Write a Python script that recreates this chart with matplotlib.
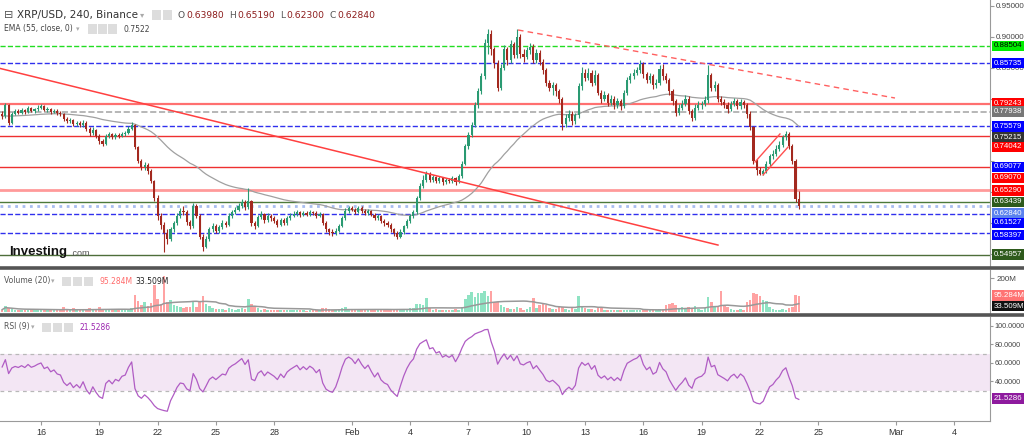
import matplotlib.pyplot as plt
from matplotlib.patches import Rectangle
from matplotlib.lines import Line2D
import numpy as np
import pandas as pd

# XRP/USD 4h candles, Jan 14 00:00 -> Feb 24 00:00 (six candles per row = one day)
# x unit: days, day 0 = Jan 16 00:00
first_open = 0.776
closes = [
    0.772, 0.790, 0.762, 0.776, 0.780, 0.778,   # Jan 14
    0.782, 0.779, 0.785, 0.781, 0.783, 0.786,   # Jan 15
    0.788, 0.782, 0.784, 0.779, 0.781, 0.777,   # Jan 16
    0.776, 0.768, 0.764, 0.766, 0.760, 0.762,
    0.758, 0.762, 0.752, 0.745, 0.750, 0.741,
    0.732, 0.728, 0.740, 0.743, 0.738, 0.742,   # Jan 19
    0.740, 0.744, 0.745, 0.752, 0.758, 0.722,
    0.700, 0.690, 0.694, 0.684, 0.668, 0.640,
    0.612, 0.598, 0.585, 0.575, 0.590, 0.600,   # Jan 22
    0.612, 0.620, 0.618, 0.602, 0.596, 0.628,
    0.612, 0.578, 0.562, 0.575, 0.590, 0.596,
    0.588, 0.594, 0.600, 0.598, 0.612, 0.618,   # Jan 25
    0.622, 0.628, 0.634, 0.626, 0.636, 0.600,
    0.596, 0.610, 0.615, 0.605, 0.612, 0.608,
    0.604, 0.598, 0.606, 0.600, 0.608, 0.612,   # Jan 28
    0.615, 0.618, 0.613, 0.617, 0.614, 0.618,
    0.616, 0.612, 0.615, 0.600, 0.590, 0.586,
    0.584, 0.588, 0.596, 0.608, 0.620, 0.624,
    0.622, 0.618, 0.625, 0.620, 0.616, 0.620,   # Feb 1
    0.614, 0.608, 0.612, 0.604, 0.600, 0.598,
    0.590, 0.584, 0.578, 0.586, 0.595, 0.604,
    0.612, 0.618, 0.640, 0.660, 0.670, 0.680,   # Feb 4
    0.670, 0.674, 0.668, 0.672, 0.666, 0.670,
    0.668, 0.672, 0.666, 0.676, 0.696, 0.724,
    0.742, 0.758, 0.790, 0.812, 0.836, 0.890,   # Feb 7
    0.905, 0.880, 0.858, 0.818, 0.850, 0.880,
    0.862, 0.888, 0.870, 0.900, 0.872, 0.868,
    0.878, 0.884, 0.862, 0.874, 0.860, 0.846,   # Feb 10
    0.825, 0.818, 0.822, 0.812, 0.800, 0.760,
    0.770, 0.776, 0.765, 0.774, 0.820, 0.842,
    0.834, 0.842, 0.826, 0.838, 0.810, 0.800,   # Feb 13
    0.806, 0.794, 0.800, 0.790, 0.796, 0.788,
    0.810, 0.830, 0.836, 0.842, 0.846, 0.856,
    0.840, 0.830, 0.836, 0.822, 0.826, 0.848,   # Feb 16
    0.836, 0.830, 0.812, 0.796, 0.778, 0.786,
    0.792, 0.800, 0.780, 0.770, 0.786, 0.790,
    0.792, 0.798, 0.838, 0.818, 0.822, 0.800,   # Feb 19
    0.795, 0.790, 0.784, 0.792, 0.796, 0.788,
    0.795, 0.790, 0.776, 0.754, 0.700, 0.686,
    0.680, 0.684, 0.696, 0.708, 0.712, 0.720,   # Feb 22
    0.726, 0.738, 0.744, 0.724, 0.700, 0.6398,
    0.6284,
]
highs = [
    0.781, 0.794, 0.792, 0.779, 0.784, 0.783,
    0.785, 0.784, 0.789, 0.787, 0.786, 0.790,
    0.791, 0.790, 0.787, 0.786, 0.784, 0.783,
    0.780, 0.778, 0.771, 0.769, 0.768, 0.765,
    0.764, 0.766, 0.764, 0.755, 0.754, 0.752,
    0.744, 0.735, 0.743, 0.747, 0.745, 0.745,
    0.745, 0.747, 0.749, 0.756, 0.763, 0.760,
    0.725, 0.703, 0.698, 0.697, 0.687, 0.670,
    0.645, 0.616, 0.602, 0.590, 0.594, 0.604,
    0.617, 0.625, 0.627, 0.621, 0.606, 0.632,
    0.631, 0.615, 0.582, 0.580, 0.594, 0.600,
    0.599, 0.598, 0.605, 0.604, 0.616, 0.622,
    0.626, 0.632, 0.639, 0.637, 0.657, 0.638,
    0.604, 0.614, 0.619, 0.617, 0.616, 0.615,
    0.611, 0.607, 0.609, 0.608, 0.611, 0.616,
    0.619, 0.621, 0.620, 0.620, 0.619, 0.621,
    0.620, 0.619, 0.618, 0.617, 0.603, 0.593,
    0.590, 0.592, 0.599, 0.611, 0.624, 0.628,
    0.627, 0.625, 0.628, 0.627, 0.623, 0.623,
    0.622, 0.617, 0.615, 0.614, 0.607, 0.603,
    0.601, 0.593, 0.587, 0.590, 0.598, 0.607,
    0.615, 0.622, 0.644, 0.664, 0.678, 0.684,
    0.682, 0.678, 0.676, 0.676, 0.674, 0.673,
    0.673, 0.676, 0.674, 0.680, 0.700, 0.728,
    0.746, 0.763, 0.795, 0.818, 0.842, 0.896,
    0.913, 0.910, 0.884, 0.862, 0.856, 0.886,
    0.884, 0.894, 0.892, 0.912, 0.904, 0.880,
    0.884, 0.890, 0.888, 0.880, 0.878, 0.864,
    0.850, 0.830, 0.827, 0.826, 0.816, 0.803,
    0.775, 0.782, 0.780, 0.778, 0.825, 0.852,
    0.848, 0.850, 0.846, 0.846, 0.842, 0.814,
    0.812, 0.810, 0.806, 0.804, 0.802, 0.800,
    0.814, 0.835, 0.842, 0.848, 0.852, 0.862,
    0.860, 0.844, 0.842, 0.840, 0.832, 0.854,
    0.856, 0.842, 0.834, 0.816, 0.800, 0.792,
    0.798, 0.806, 0.804, 0.784, 0.792, 0.796,
    0.796, 0.804, 0.855, 0.842, 0.828, 0.826,
    0.804, 0.800, 0.795, 0.797, 0.801, 0.800,
    0.800, 0.799, 0.793, 0.780, 0.757, 0.704,
    0.690, 0.688, 0.700, 0.712, 0.718, 0.726,
    0.732, 0.742, 0.748, 0.747, 0.728, 0.703,
    0.6519,
]
lows = [
    0.768, 0.770, 0.758, 0.760, 0.774, 0.775,
    0.776, 0.776, 0.777, 0.779, 0.778, 0.781,
    0.783, 0.780, 0.779, 0.776, 0.777, 0.774,
    0.772, 0.765, 0.761, 0.762, 0.757, 0.757,
    0.755, 0.755, 0.748, 0.741, 0.742, 0.737,
    0.728, 0.725, 0.726, 0.737, 0.735, 0.735,
    0.737, 0.738, 0.741, 0.743, 0.750, 0.719,
    0.697, 0.686, 0.686, 0.679, 0.664, 0.636,
    0.606, 0.590, 0.554, 0.566, 0.572, 0.586,
    0.597, 0.608, 0.614, 0.598, 0.590, 0.593,
    0.608, 0.574, 0.556, 0.560, 0.572, 0.586,
    0.584, 0.585, 0.591, 0.594, 0.595, 0.608,
    0.615, 0.619, 0.625, 0.622, 0.623, 0.596,
    0.590, 0.594, 0.607, 0.601, 0.602, 0.604,
    0.600, 0.594, 0.596, 0.597, 0.598, 0.605,
    0.610, 0.612, 0.610, 0.611, 0.611, 0.612,
    0.613, 0.609, 0.610, 0.597, 0.586, 0.581,
    0.580, 0.581, 0.586, 0.594, 0.606, 0.617,
    0.619, 0.615, 0.616, 0.617, 0.613, 0.613,
    0.611, 0.605, 0.605, 0.600, 0.596, 0.594,
    0.586, 0.580, 0.574, 0.576, 0.583, 0.592,
    0.601, 0.609, 0.615, 0.637, 0.657, 0.667,
    0.666, 0.667, 0.664, 0.665, 0.662, 0.663,
    0.664, 0.665, 0.662, 0.664, 0.673, 0.693,
    0.720, 0.738, 0.755, 0.786, 0.808, 0.832,
    0.872, 0.870, 0.850, 0.812, 0.815, 0.846,
    0.855, 0.858, 0.866, 0.866, 0.866, 0.860,
    0.864, 0.872, 0.858, 0.858, 0.854, 0.840,
    0.820, 0.812, 0.806, 0.804, 0.794, 0.750,
    0.754, 0.764, 0.758, 0.760, 0.770, 0.815,
    0.828, 0.830, 0.820, 0.822, 0.806, 0.794,
    0.796, 0.788, 0.790, 0.784, 0.786, 0.782,
    0.785, 0.806, 0.826, 0.832, 0.838, 0.842,
    0.834, 0.825, 0.826, 0.816, 0.818, 0.822,
    0.830, 0.825, 0.806, 0.790, 0.772, 0.774,
    0.782, 0.788, 0.776, 0.764, 0.766, 0.782,
    0.784, 0.788, 0.794, 0.812, 0.812, 0.795,
    0.790, 0.785, 0.778, 0.780, 0.788, 0.783,
    0.784, 0.785, 0.770, 0.750, 0.696, 0.678,
    0.677, 0.677, 0.681, 0.692, 0.704, 0.708,
    0.716, 0.722, 0.734, 0.720, 0.696, 0.634,
    0.623,
]
# volume, millions
volumes = [
    12, 35, 20, 15, 10, 8,
    10, 9, 12, 8, 7, 10,
    12, 9, 8, 10, 7, 9,
    12, 25, 14, 10, 20, 9,
    12, 10, 18, 22, 12, 15,
    25, 15, 18, 12, 10, 9,
    10, 12, 9, 18, 22, 100,
    65, 40, 60, 35, 50, 160,
    75, 45, 215, 55, 70, 40,
    35, 30, 20, 30, 25, 55,
    30, 55, 95, 45, 35, 20,
    18, 15, 18, 10, 22, 18,
    12, 15, 20, 15, 75, 48,
    25, 20, 12, 14, 10, 8,
    10, 12, 9, 8, 10, 12,
    8, 10, 7, 8, 6, 9,
    7, 10, 8, 20, 22, 15,
    12, 10, 14, 20, 25, 15,
    10, 12, 10, 8, 9, 8,
    12, 14, 9, 15, 12, 10,
    14, 16, 18, 15, 14, 16,
    20, 22, 45, 48, 40, 80,
    20, 12, 14, 10, 12, 8,
    10, 9, 15, 12, 30, 73,
    99, 115, 89, 109, 109, 123,
    95, 123, 60, 55, 40, 30,
    20, 18, 15, 25, 20, 12,
    15, 25, 80, 20, 40, 45,
    40, 20, 15, 18, 25, 28,
    15, 12, 20, 15, 93, 30,
    20, 15, 18, 12, 22, 20,
    10, 12, 8, 10, 9, 8,
    12, 10, 8, 12, 7, 9,
    10, 8, 8, 12, 10, 14,
    15, 40, 45, 50, 42, 20,
    25, 18, 30, 22, 35, 15,
    12, 20, 85, 60, 25, 35,
    123, 40, 30, 15, 12, 10,
    14, 12, 60, 70, 110, 105,
    95, 70, 65, 30, 15, 12,
    10, 14, 10, 22, 25, 102,
    95.284,
]
rsi_at_left = 58   # RSI level read at the left edge of the lower pane

# horizontal levels drawn on the chart
level_values = [0.88504, 0.85735, 0.79243, 0.77938, 0.75579, 0.74042, 0.69077,
                0.65290, 0.63439, 0.62840, 0.61527, 0.58397, 0.54957]
level_colors = ['#22dd22', '#3030ee', '#ff7070', '#aaaaaa', '#3030ee', '#ee3030', '#ee3030',
                '#ff9a9a', '#4d7a3a', '#a8bdf0', '#3030ee', '#3030ee', '#4d6e3a']
level_styles = ['--', '--', '-', '--', '--', '-', '-', '-', '-', ':', '--', '--', '-']
level_widths = [1.0, 1.0, 1.6, 1.2, 1.0, 1.0, 1.0, 2.0, 1.0, 2.0, 1.0, 1.0, 1.0]

# price labels on the right scale
label_values = [0.88504, 0.85735, 0.79243, 0.77938, 0.75579, 0.75215, 0.74042, 0.69077,
                0.69070, 0.65290, 0.63439, 0.62840, 0.61527, 0.58397, 0.54957]
label_colors = ['#00ee00', '#0000ff', '#ff0000', '#777777', '#0000ff', '#333333', '#ff0000',
                '#0000ff', '#ff0000', '#ff0000', '#2e5a1c', '#5b82ee', '#0000ff', '#0000ff', '#2e5a1c']
label_shift_px = [0, 0, 0, 0, 0, 9, 11, 0, 11, 0, 0, 8, 9, 2, 0]

# price scale ticks; the ones hidden behind the level tags carry no text
price_ticks = [0.55, 0.60, 0.65, 0.70, 0.75, 0.80, 0.85, 0.90, 0.95]
price_tick_text = ['', '', '', '', '', '', '0.85000', '0.90000', '0.95000']

# drawn trend lines (day, price)
trend_long = ([-2.11, 34.84], [0.849, 0.565])
trend_top = ([24.55, 43.95], [0.9108, 0.8014])
flag_upper = ([36.75, 38.03], [0.6986, 0.7436])
flag_lower = ([37.16, 38.45], [0.6777, 0.7227])

tick_days = [0, 3, 6, 9, 12, 16, 19, 22, 25, 28, 31, 34, 37, 40, 44, 47]
tick_names = ['16', '19', '22', '25', '28', 'Feb', '4', '7', '10', '13', '16', '19', '22', '25', 'Mar', '4']

assert len(closes) == len(highs) == len(lows) == len(volumes)

UP = '#2a9a72'
DOWN = '#a3291f'
W, H = 1024, 437
SCALE_FONT = 'Liberation Sans'

close = pd.Series(closes)
opens = np.r_[first_open, close.values[:-1]]
t = -2 + np.arange(len(close)) / 6
up = close.values >= opens
cols = np.where(up, UP, DOWN)

ema = close.ewm(span=55, adjust=False).mean()

# Wilder RSI(9), started from the level seen at the left edge
moves = np.diff(np.r_[first_open, close.values])
avg_move = np.abs(moves).mean()
g = avg_move * rsi_at_left / 100
l = avg_move * (100 - rsi_at_left) / 100
rsi = []
for m in moves:
    g = (g * 8 + max(m, 0)) / 9
    l = (l * 8 + max(-m, 0)) / 9
    rsi.append(100 - 100 / (1 + g / l))

vol = pd.Series(volumes)
vol_ma = vol.rolling(20, min_periods=1).mean()

fig = plt.figure(figsize=(W / 100, H / 100), dpi=100)
fig.patch.set_facecolor('white')


def pane(y0, y1):
    return [0, 1 - y1 / H, 990 / W, (y1 - y0) / H]


ax = fig.add_axes(pane(0, 266))
axv = fig.add_axes(pane(270, 313), sharex=ax)
axr = fig.add_axes(pane(317, 421), sharex=ax)

for a in (ax, axv, axr):
    for s in ('top', 'left', 'bottom'):
        a.spines[s].set_visible(False)
    a.spines['right'].set_color('#9a9a9a')
    a.yaxis.tick_right()
    a.tick_params(axis='y', length=3, color='#9a9a9a', labelsize=5.8, labelcolor='#444444', pad=1.5)
    a.tick_params(axis='x', bottom=False, labelbottom=False)
axr.spines['bottom'].set_visible(True)
axr.spines['bottom'].set_color('#9a9a9a')
axr.tick_params(axis='y', length=2.5, labelsize=5.2, pad=1)

ax.set_xlim(-2.11, 48.84)
ax.set_ylim(0.5313, 0.9590)
axv.set_ylim(-8, 248)
axr.set_ylim(-2.7, 109.4)

# price pane
for v, c, ls, lw in zip(level_values, level_colors, level_styles, level_widths):
    ax.axhline(v, color=c, ls=ls, lw=lw, zorder=1)
ax.plot(t, ema, color='#a0a0a0', lw=0.9, zorder=2)
ax.vlines(t, lows, highs, colors=cols, lw=0.8, zorder=3)
ax.bar(t, np.maximum(np.abs(close.values - opens), 0.0012), bottom=np.minimum(opens, close.values),
       width=0.11, color=cols, lw=0, zorder=3)
ax.plot(*trend_long, color='#ff4040', lw=1.1, zorder=4)
ax.plot(*trend_top, color='#ff6060', lw=1.0, ls=(0, (4, 3)), zorder=4)
ax.plot(*flag_upper, color='#ff5050', lw=1.0, zorder=4)
ax.plot(*flag_lower, color='#ff5050', lw=1.0, zorder=4)
ax.set_yticks(price_ticks)
ax.set_yticklabels(price_tick_text, family=SCALE_FONT)

# volume pane
axv.bar(t, vol, width=0.13, color=np.where(up, '#8fe3c3', '#ffa3a3'), lw=0)
axv.plot(t, vol_ma, color='#999999', lw=1.1)
axv.set_yticks([200])
axv.set_yticklabels(['200M'], family=SCALE_FONT)

# RSI pane
axr.axhspan(30, 70, color='#f3e6f4', lw=0)
axr.axhline(70, color='#b8b8b8', lw=0.9, ls=(0, (3, 3)))
axr.axhline(30, color='#b8b8b8', lw=0.9, ls=(0, (3, 3)))
axr.plot(t, rsi, color='#b05cc4', lw=0.9)
axr.set_yticks([40, 60, 80, 100])
axr.set_yticklabels(['40.0000', '60.0000', '80.0000', '100.0000'], family=SCALE_FONT)
axr.set_xticks(tick_days)
axr.set_xticklabels(tick_names, family=SCALE_FONT)
axr.tick_params(axis='x', bottom=True, labelbottom=True, length=3, color='#9a9a9a',
                labelsize=6.5, labelcolor='#333333', pad=2)

# separators between panes
for yy in (268, 315):
    fig.add_artist(Line2D([0, 1], [1 - yy / H] * 2, color='#555555', lw=2.6))


def fx(x):
    return x / W


def fy(y):
    return 1 - y / H


def tag(ypix, txt, c, tc='white'):
    fig.text(fx(994), ypix / H, txt, fontsize=5.7, family=SCALE_FONT, va='center', ha='left',
             color=tc, bbox=dict(boxstyle='square,pad=0.22', fc=c, ec='none'), zorder=10)


# labels on the right scale
for v, c, sh in zip(label_values, label_colors, label_shift_px):
    tag(ax.transData.transform((0, v))[1] - sh, '%.5f' % v, c,
        'black' if c == '#00ee00' else 'white')

tag(axv.transData.transform((0, vol.iloc[-1]))[1], '95.284M', '#ff7373')
tag(axv.transData.transform((0, 33.509))[1], '33.509M', '#111111')
tag(axr.transData.transform((0, 21.5286))[1], '21.5286', '#8e1a9e')


def icons(xs, y):
    for x in xs:
        fig.add_artist(Rectangle((fx(x), fy(y + 4.5)), 9 / W, 9 / H, transform=fig.transFigure,
                                 fc='#dddddd', ec='none'))


# header
fig.text(fx(4), fy(15), '\u229f', fontsize=8, color='#555555', va='center')
fig.text(fx(17), fy(15), 'XRP/USD, 240, Binance', fontsize=7.5, color='#333333', va='center')
fig.text(fx(140), fy(15), '\u25be', fontsize=6, color='#aaaaaa', va='center')
icons([152, 163], 15)
for x, k, xv, val in [(178, 'O', 186, '0.63980'), (229, 'H', 237, '0.65190'),
                      (280, 'L', 286, '0.62300'), (329, 'C', 337, '0.62840')]:
    fig.text(fx(x), fy(15), k, fontsize=6.6, color='#555555', va='center')
    fig.text(fx(xv), fy(15), val, fontsize=6.6, color='#8c1c1c', va='center')

fig.text(fx(4), fy(29), 'EMA (55, close, 0)', fontsize=5.5, color='#444444', va='center')
fig.text(fx(76), fy(29), '\u25be', fontsize=5, color='#aaaaaa', va='center')
icons([88, 98, 108], 29)
fig.text(fx(123), fy(29), '0.7522', fontsize=5.5, color='#444444', va='center')

fig.text(fx(4), fy(281), 'Volume (20)', fontsize=5.5, color='#555555', va='center')
fig.text(fx(51), fy(281), '\u25be', fontsize=5, color='#aaaaaa', va='center')
icons([62, 73, 84], 281)
fig.text(fx(100), fy(281), '95.284M', fontsize=5.5, color='#ff6b6b', va='center')
fig.text(fx(135), fy(281), '33.509M', fontsize=5.5, color='#222222', va='center')

fig.text(fx(4), fy(327), 'RSI (9)', fontsize=5.5, color='#555555', va='center')
fig.text(fx(31), fy(327), '\u25be', fontsize=5, color='#aaaaaa', va='center')
icons([42, 53, 64], 327)
fig.text(fx(80), fy(327), '21.5286', fontsize=5.5, color='#9c27b0', va='center')

# watermark
fig.text(fx(9), fy(252), 'Investing', fontsize=9.5, fontweight='bold', family='Liberation Sans',
         color='#111111', va='center')
fig.text(fx(70), fy(253), '.com', fontsize=6.5, family='Liberation Sans', color='#555555', va='center')

fig.savefig('out.png', dpi=100)
